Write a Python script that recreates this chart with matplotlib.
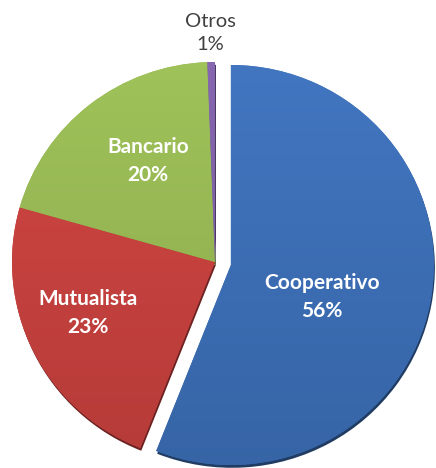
import numpy as np
import matplotlib.pyplot as plt
from matplotlib.colors import to_rgb

categories = ['Cooperativo', 'Mutualista', 'Bancario', 'Otros']
shares = [56.0, 23.4, 20.0, 0.6]
pct_labels = [f'{round(s)}%' for s in shares]

colors = ['#3b6db4', '#c5403d', '#95b652', '#7d5fa5']
explode = [0.08, 0, 0, 0]

fig = plt.figure(figsize=(4.36, 4.68), dpi=100)
ax = fig.add_axes([0, 0, 1, 1])
ax.axis('off')

# darker copy slightly below -> bevel/edge look
rims, _ = ax.pie(shares, colors=[tuple(np.array(to_rgb(c)) * 0.55) for c in colors],
                 explode=explode, startangle=90, counterclock=False,
                 center=(0.005, -0.014), wedgeprops=dict(linewidth=0))

wedges, _ = ax.pie(shares, colors=colors, explode=explode, startangle=90,
                   counterclock=False, radius=1.0,
                   wedgeprops=dict(linewidth=0))

# soft top-to-bottom shading on every slice
for w, c in zip(wedges, colors):
    base = np.array(to_rgb(c))
    light = np.clip(base * 1.05 + 0.015, 0, 1)
    dark = base * 0.92
    t = np.linspace(0, 1, 256)[:, None]
    grad = (light[None, :] * (1 - t) + dark[None, :] * t)[:, None, :]
    cx, cy = w.center
    im = ax.imshow(grad, extent=(cx - 1.05, cx + 1.05, cy - 1.05, cy + 1.05),
                   origin='upper', aspect='auto', zorder=w.get_zorder() + 0.1)
    im.set_clip_path(w)

# label placement: radius from slice centre and angle tweak (degrees)
label_r = [0.476, 0.676, 0.603, 1.145]
label_da = [-8.8, -4.1, -5.0, 0]
inside = [True, True, True, False]

for w, cat, pct, r, da, inn in zip(wedges, categories, pct_labels, label_r, label_da, inside):
    ang = np.deg2rad((w.theta1 + w.theta2) / 2 + da)
    cx, cy = w.center
    x = cx + r * np.cos(ang)
    y = cy + r * np.sin(ang)
    if inn:
        ax.text(x, y, f'{cat}\n{pct}', ha='center', va='center', color='white',
                fontsize=15, fontweight='bold', family='Lato',
                linespacing=1.55, zorder=5)
    else:
        ax.text(x, y, f'{cat}\n{pct}', ha='center', va='center', color='#404040',
                fontsize=14.5, family='Lato', linespacing=1.4, zorder=5)

ax.set_aspect('auto')
ax.set_xlim(-1.059, 1.089)
ax.set_ylim(-1.03, 1.31)

fig.savefig('out.png', dpi=100, facecolor='white')
